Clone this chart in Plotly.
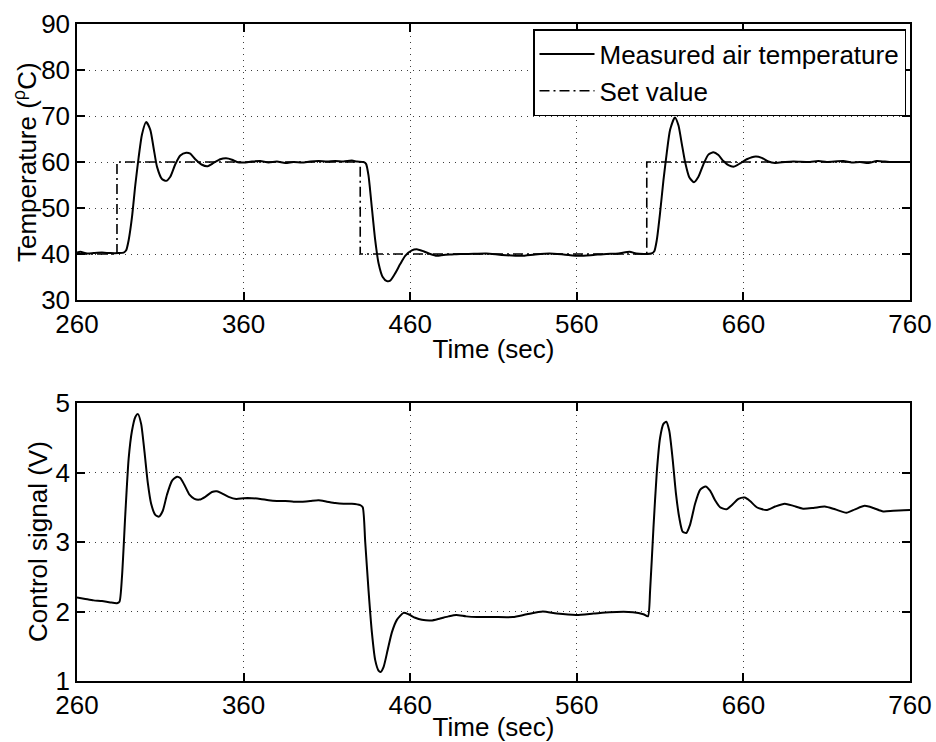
import plotly.graph_objects as go

# ---- data ----
temp_t = [260, 262, 266, 270, 275, 280, 285, 288, 289.5, 291, 293, 295, 297, 299, 301.5, 304, 306, 308, 311,
          313.5, 316, 319, 322, 325.5, 328, 331, 335, 338.5, 342, 346, 349.5, 353, 356, 360, 365, 370, 375, 380,
          385, 390, 395, 400, 405, 410, 415, 420, 425, 428, 432, 433.5, 435, 437, 439, 441, 443.5, 446, 448, 451,
          454, 457, 461, 464.5, 468, 472, 476, 480, 485, 490, 495, 505.6, 515, 526.6, 535, 543.6, 552, 561.7,
          570, 577.7, 585, 591.7, 595.7, 604.7, 606.5, 608, 610, 612, 614, 616, 618.9, 621, 623, 625, 627.5,
          630.3, 633, 636, 639, 642, 645, 648, 651, 654.4, 658, 662, 667.4, 671, 675, 679, 685, 690, 700, 705,
          710, 720, 725, 730, 735, 740, 745, 750, 755, 760]
temp_v = [40.3, 40.5, 40.1, 40.2, 40.3, 40.2, 40.2, 40.3, 40.8, 43, 48, 55, 61, 66, 68.7, 67, 63, 59, 56.3,
          55.9, 56.8, 59.5, 61.4, 62.0, 61.8, 60.6, 59.4, 59.1, 59.8, 60.6, 60.8, 60.5, 60.0, 59.9, 60.1, 60.2,
          59.9, 60.1, 59.8, 60.0, 59.9, 60.1, 60.2, 60.1, 60.2, 60.1, 60.3, 60.1, 60.0, 59.6, 57, 50, 43, 38, 35,
          34.1, 34.2, 35.8, 37.8, 39.6, 40.8, 41.0, 40.6, 40.0, 39.6, 39.8, 39.9, 40.0, 40.0, 40.1, 39.8, 39.6,
          39.9, 40.1, 39.9, 39.6, 39.8, 40.0, 40.1, 40.5, 40.1, 40.1, 40.6, 43, 49, 56, 62, 67, 69.7, 68, 64, 60,
          56.7, 55.6, 56.8, 59.5, 61.6, 62.1, 61.5, 60.2, 59.3, 59.0, 59.7, 60.6, 61.2, 60.9, 60.1, 59.8, 60.0,
          60.1, 60.0, 60.2, 60.0, 60.2, 59.9, 60.0, 59.8, 60.2, 60.1, 60.0, 60.0, 60.0]

set_t = [260, 284, 284, 430, 430, 602, 602, 760]
set_v = [40, 40, 60, 60, 40, 40, 60, 60]

ctrl_t = [260, 265, 270, 275, 280, 284, 285.5, 287, 289, 291, 293, 295, 296.6, 298.5, 300.5, 302.5, 304.5,
          307, 309.2, 311.5, 314, 317, 320, 322, 324.5, 327.5, 330.5, 333.6, 337, 341, 344, 347, 351, 355.6,
          360, 365, 370, 375, 380, 385, 390, 395, 400, 405, 410, 415, 420, 425, 430, 431.5, 433, 435, 437, 439,
          441, 442.2, 444, 446.5, 449, 452, 456, 459, 463, 467, 472.6, 478, 483, 487.6, 493.6, 500, 510, 521.6,
          530, 539.6, 548, 559.7, 570, 579.7, 593.7, 600, 602.7, 604, 606, 608, 610, 612, 613.7, 615.5, 617.5,
          619.5, 621.5, 623.5, 625.7, 628, 631, 634, 637.3, 640, 643, 646, 649.8, 653, 657, 660.8, 664, 668,
          673.8, 679, 684.8, 690, 695.8, 702, 708.8, 715, 721.8, 727, 732.8, 738, 743.9, 750, 760]
ctrl_v = [2.20, 2.18, 2.16, 2.15, 2.13, 2.12, 2.14, 2.5, 3.4, 4.2, 4.6, 4.8, 4.84, 4.7, 4.3, 3.85, 3.55,
          3.39, 3.365, 3.45, 3.68, 3.88, 3.94, 3.92, 3.82, 3.68, 3.62, 3.61, 3.65, 3.72, 3.73, 3.70, 3.65, 3.62,
          3.63, 3.63, 3.62, 3.60, 3.59, 3.59, 3.58, 3.58, 3.59, 3.60, 3.58, 3.56, 3.55, 3.55, 3.53, 3.50, 3.0,
          2.3, 1.7, 1.3, 1.15, 1.13, 1.2, 1.45, 1.7, 1.88, 1.98, 1.96, 1.91, 1.88, 1.87, 1.90, 1.93, 1.95, 1.93,
          1.92, 1.92, 1.92, 1.96, 2.0, 1.97, 1.95, 1.97, 1.99, 1.99, 1.96, 1.93, 2.3, 3.2, 4.0, 4.5, 4.7, 4.73,
          4.6, 4.2, 3.7, 3.35, 3.15, 3.13, 3.25, 3.55, 3.75, 3.80, 3.74, 3.6, 3.5, 3.47, 3.53, 3.62, 3.64, 3.59,
          3.50, 3.46, 3.51, 3.55, 3.52, 3.48, 3.49, 3.51, 3.47, 3.42, 3.47, 3.52, 3.49, 3.44, 3.45, 3.46]

x_ticks = [260, 360, 460, 560, 660, 760]
temp_ticks = [30, 40, 50, 60, 70, 80, 90]
ctrl_ticks = [1, 2, 3, 4, 5]

FONT = "Liberation Sans, Arial, Helvetica, sans-serif"
FS = 26

fig = go.Figure()
fig.add_trace(go.Scatter(x=set_t, y=set_v, mode="lines", name="Set value",
                         line=dict(color="black", width=1.6, dash="10px,4px,2px,4px"),
                         xaxis="x", yaxis="y"))
fig.add_trace(go.Scatter(x=temp_t, y=temp_v, mode="lines", name="Measured air temperature",
                         line=dict(color="black", width=2, shape="spline", smoothing=0.6),
                         xaxis="x", yaxis="y"))
fig.add_trace(go.Scatter(x=ctrl_t, y=ctrl_v, mode="lines", showlegend=False,
                         line=dict(color="black", width=2, shape="spline", smoothing=0.6),
                         xaxis="x2", yaxis="y2"))

W, H = 936, 742
xd = [77 / W, 910 / W]
yd1 = [1 - 300 / H, 1 - 24 / H]
yd2 = [1 - 681 / H, 1 - 403 / H]
ax_common = dict(showline=True, linecolor="black", linewidth=1.5, mirror="ticks",
                 ticks="inside", ticklen=8, tickwidth=1.5, tickcolor="black",
                 showgrid=True, gridcolor="rgb(60,60,60)", gridwidth=1, griddash="1px,5px",
                 zeroline=False, automargin=False,
                 tickfont=dict(family=FONT, size=FS, color="black"))

fig.update_layout(
    width=W, height=H,
    margin=dict(l=0, r=0, t=0, b=0),
    paper_bgcolor="white", plot_bgcolor="white",
    font=dict(family=FONT, size=FS, color="black"),
    xaxis=dict(domain=xd, anchor="y", range=[260, 760], tickvals=x_ticks,
               title=dict(text="Time (sec)", standoff=2, font=dict(size=FS)), **ax_common),
    yaxis=dict(domain=yd1, anchor="x", range=[30, 90], tickvals=temp_ticks, **ax_common),
    xaxis2=dict(domain=xd, anchor="y2", range=[260, 760], tickvals=x_ticks,
                title=dict(text="Time (sec)", standoff=0, font=dict(size=FS)), **ax_common),
    yaxis2=dict(domain=yd2, anchor="x2", range=[1, 5], tickvals=ctrl_ticks, **ax_common),
    legend=dict(x=906 / W, y=1 - 29 / H, xanchor="right", yanchor="top",
                bgcolor="white", bordercolor="black", borderwidth=1.5,
                font=dict(family=FONT, size=FS), traceorder="reversed",
                tracegroupgap=0, itemwidth=55),
    showlegend=True,
    annotations=[
        dict(text="Temperature (<sup>ρ</sup>C)", textangle=-90, xref="paper", yref="paper",
             x=26 / W, y=(yd1[0] + yd1[1]) / 2, xanchor="center", yanchor="middle",
             showarrow=False, font=dict(family=FONT, size=FS, color="black")),
        dict(text="Control signal (V)", textangle=-90, xref="paper", yref="paper",
             x=38 / W, y=(yd2[0] + yd2[1]) / 2, xanchor="center", yanchor="middle",
             showarrow=False, font=dict(family=FONT, size=FS, color="black")),
    ],
)

fig.write_html("out.html")
